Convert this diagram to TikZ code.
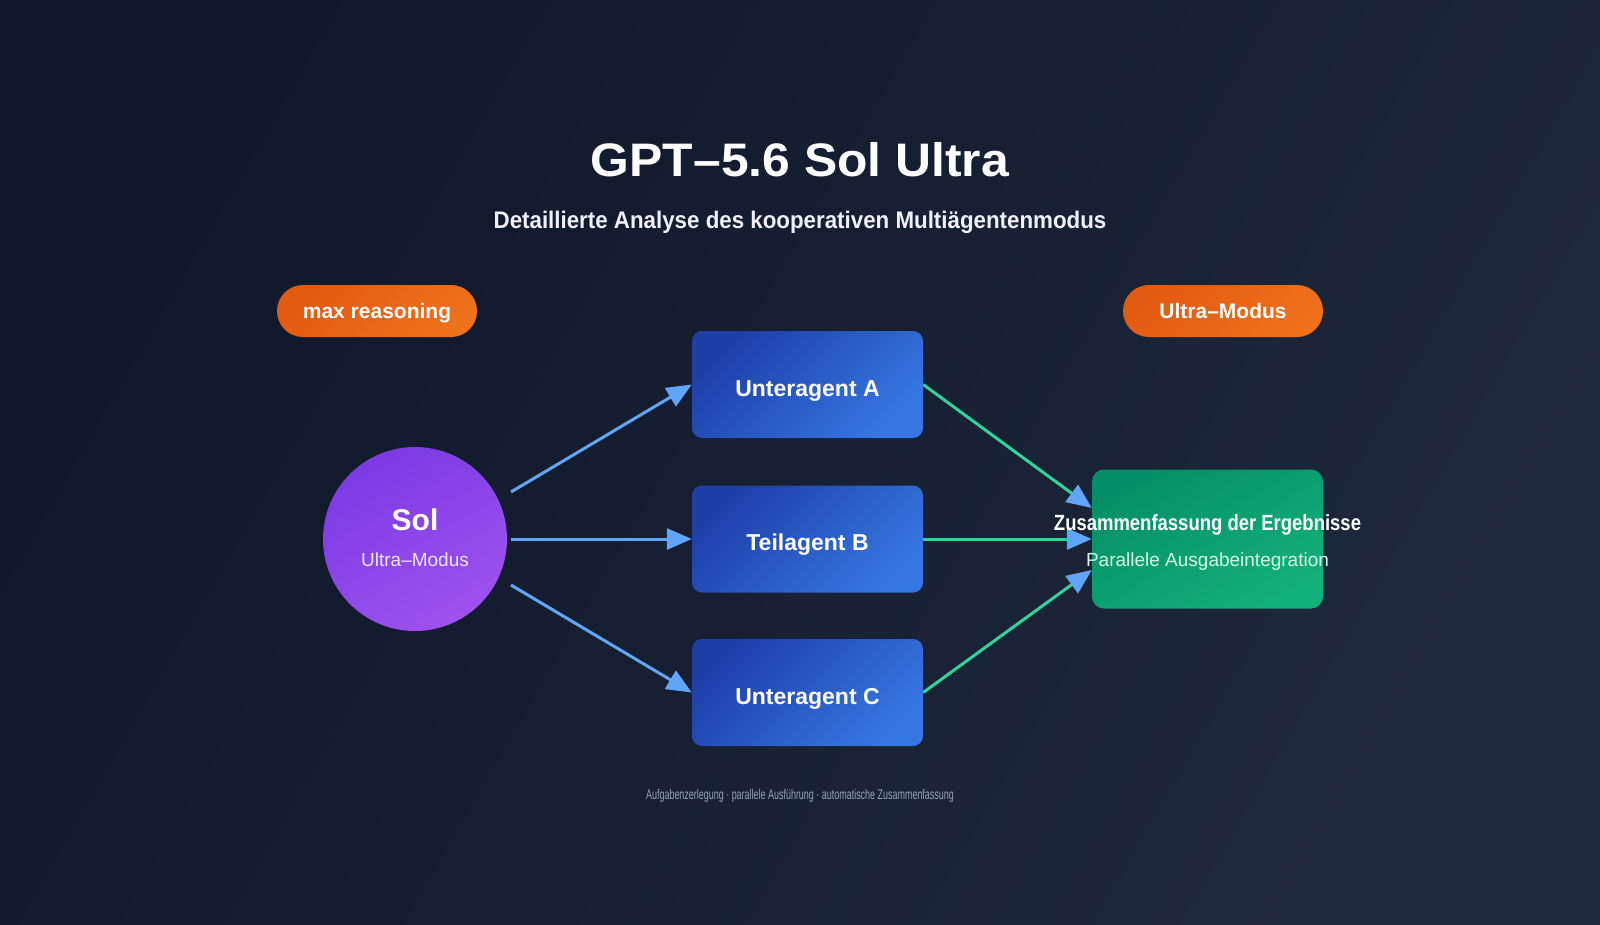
\documentclass[tikz,border=0pt]{standalone}
\usepackage{fontspec}
\setmainfont{Liberation Sans}
\newfontfamily\titlefont[FakeStretch=1.06]{Liberation Sans}
\newfontfamily\subfont[FakeStretch=0.93]{Liberation Sans}
\newfontfamily\grfont[FakeStretch=0.84]{Liberation Sans}
\newfontfamily\footfont[FakeStretch=0.64]{Liberation Sans}
\usetikzlibrary{arrows.meta,calc}
\pgfdeclarelayer{bg}
\pgfsetlayers{bg,main}
\definecolor{bgA}{HTML}{0F172A}
\definecolor{bgB}{HTML}{1E293B}
\definecolor{orA}{HTML}{E25A10}
\definecolor{orB}{HTML}{EF711B}
\definecolor{blA}{HTML}{1E3FA8}
\definecolor{blB}{HTML}{3676E0}
\definecolor{puA}{HTML}{7B3AE4}
\definecolor{puB}{HTML}{9E52EE}
\definecolor{grA}{HTML}{058F66}
\definecolor{grB}{HTML}{12B07A}
\definecolor{arrowblue}{HTML}{60A5FA}
\definecolor{arrowgreen}{HTML}{34D399}
\definecolor{mint}{HTML}{D1FAE5}
\definecolor{lav}{HTML}{EDE4FD}
\definecolor{footgray}{HTML}{94A3B8}
\tikzset{
  pill/.style={rounded corners=25.9pt, minimum width=200pt, minimum height=52pt, inner sep=0pt,
    top color=orA, bottom color=orB, shading angle=45, draw=none, text=white,
    font=\bfseries\fontsize{21}{25}\selectfont, text height=14.6pt, text depth=0pt},
  agentbox/.style={rounded corners=10pt, minimum width=231pt, minimum height=107pt, inner sep=0pt,
    top color=blA, bottom color=blB, shading angle=45, draw=none, text=white,
    font=\bfseries\fontsize{23}{27}\selectfont, text height=23pt, text depth=0pt},
  solcircle/.style={circle, minimum size=184pt, inner sep=0pt, draw=none,
    top color=puA, bottom color=puB, shading angle=30},
  resultbox/.style={rounded corners=12pt, minimum width=231pt, minimum height=139pt, inner sep=0pt,
    top color=grA, bottom color=grB, shading angle=30, draw=none},
  bluearrow/.style={draw=arrowblue, line width=3pt, -{Triangle[length=25pt,width=21pt,color=arrowblue]}},
  greenarrow/.style={draw=arrowgreen, line width=3pt, -{Triangle[length=25pt,width=21pt,color=arrowblue]}},
  lbl/.style={anchor=base, inner sep=0pt, text=white},
}
\begin{document}
\begin{tikzpicture}[x=1pt,y=-1pt]
\useasboundingbox (0,0) rectangle (1600,924);
\begin{pgfonlayer}{bg}
\shade[top color=bgA, bottom color=bgB, shading angle=60] (0,0) rectangle (1600,924);
\end{pgfonlayer}

% title
\node[lbl, font=\titlefont\bfseries\fontsize{47}{56}\selectfont] (title) at (800,176) {GPT–5.6 Sol Ultra};
\node[lbl, font=\subfont\bfseries\fontsize{24}{29}\selectfont, text=white!94!blue] (subtitle) at (800,228.5) {Detaillierte Analyse des kooperativen Multiägentenmodus};

% pills
\node[pill] (p1) at (377,311) {max reasoning};
\node[pill] (p2) at (1223,311) {Ultra–Modus};

% nodes
\node[solcircle] (sol) at (415,539) {};
\node[lbl, font=\bfseries\fontsize{30}{36}\selectfont] (soltitle) at ($(sol.center)+(0,-8.3)$) {Sol};
\node[lbl, font=\fontsize{19}{23}\selectfont, text=lav] (solsub) at ($(sol.center)+(0,27.7)$) {Ultra–Modus};

\node[agentbox] (a) at (807.5,384.5) {Unteragent A};
\node[agentbox] (b) at (807.5,539) {Teilagent B};
\node[agentbox] (c) at (807.5,692.5) {Unteragent C};

\node[resultbox] (g) at (1207.5,539) {};

% connectors
\begin{pgfonlayer}{bg}
\draw[bluearrow] ($(sol.center)+(96,-47)$) -- (a.west);
\draw[bluearrow] ($(sol.center)+(96,0)$) -- (b.west);
\draw[bluearrow] ($(sol.center)+(96,46)$) -- (c.west);
\draw[greenarrow] (a.east) -- ($(g.west)+(0,-31)$);
\draw[greenarrow] (b.east) -- (g.west);
\draw[greenarrow] (c.east) -- ($(g.west)+(0,31)$);
\end{pgfonlayer}

\node[lbl, font=\grfont\bfseries\fontsize{22}{26}\selectfont] (gtitle) at ($(g.center)+(0,-8.3)$) {Zusammenfassung der Ergebnisse};
\node[lbl, font=\fontsize{19}{23}\selectfont, text=mint] (gsub) at ($(g.center)+(0,27.5)$) {Parallele Ausgabeintegration};

% footer
\node[lbl, font=\footfont\fontsize{14}{17}\selectfont, text=footgray] (footer) at (800,799) {Aufgabenzerlegung · parallele Ausführung · automatische Zusammenfassung};
\end{tikzpicture}
\end{document}
